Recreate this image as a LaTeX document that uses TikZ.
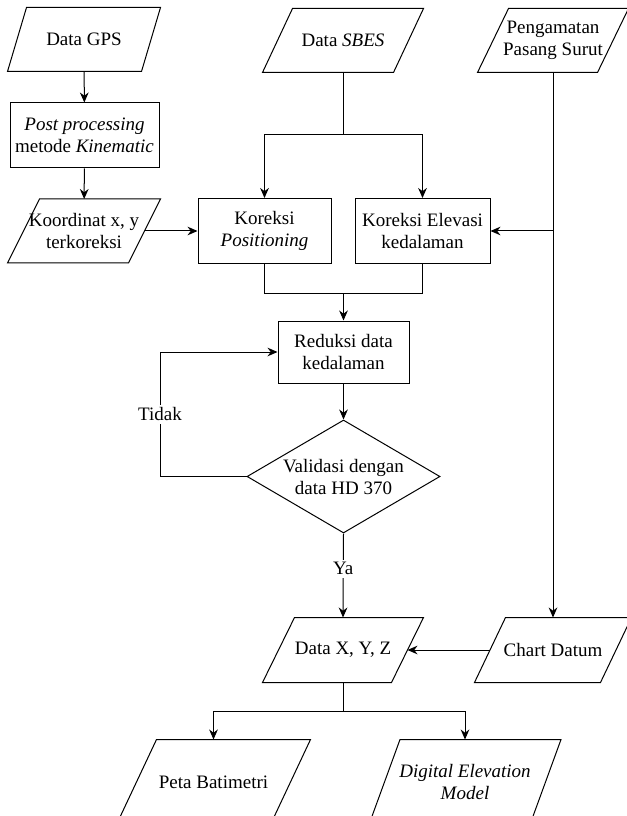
\documentclass[tikz,border=0pt]{standalone}
\usepackage{fontspec}
\setmainfont{Liberation Serif}
\usepackage{tikz}
\usetikzlibrary{shapes.geometric, arrows.meta}
\newcommand{\iobox}[2]{\draw ([xshift=#2]#1.north west) -- (#1.north east) -- ([xshift=-#2]#1.south east) -- (#1.south west) -- cycle;}

\begin{document}
\begin{tikzpicture}
	[x=0.75pt, y=-0.75pt, line width=0.75pt,
	every node/.style = {font=\fontsize{14.25}{16.5}\selectfont, align=center, inner sep=1pt},
	io/.style = {rectangle, minimum height=47.25pt},
	proc/.style = {draw, rectangle, minimum height=48.75pt},
	arr/.style = {-{Stealth[length=7.5pt, width=6.5pt]}},
	lbl/.style = {fill=white, inner sep=2pt}]
	\useasboundingbox (0,0) rectangle (626,816);
	\node[io, minimum width=114pt] (gps) at (84,39.5) {Data GPS};
	\node[proc, minimum width=111.75pt] (post) at (84.5,135.5) {\textit{Post processing}\\metode \textit{Kinematic}};
	\node[io, minimum width=114pt] (koord) at (84,231) {Koordinat x, y\\terkoreksi};
	\node[io, minimum width=120pt] (sbes) at (343,40.5) {Data \textit{SBES}};
	\node[io, minimum width=112.5pt] (pasut) at (553,40.5) {Pengamatan\\Pasang Surut};
	\node[proc, minimum width=99.75pt] (kpos) at (264.5,231) {Koreksi\\\textit{Positioning}};
	\node[proc, minimum width=101.25pt] (kelev) at (422.5,231) {Koreksi Elevasi\\kedalaman};
	\node[proc, minimum width=98.25pt, minimum height=46.5pt] (reduksi) at (343.5,352) {Reduksi data\\kedalaman};
	\node[draw, diamond, shape aspect=1.71, inner sep=0pt, minimum width=144.75pt, minimum height=84.75pt] (valid) at (343.5,476.5) {Validasi dengan\\data HD 370};
	\node[io, minimum width=120pt, minimum height=48pt] (xyz) at (343,650) {Data X, Y, Z};
	\node[io, minimum width=117pt, minimum height=48pt] (chart) at (553,650) {Chart Datum};
	\node[io, minimum width=144.75pt, minimum height=63pt] (peta) at (213.5,782) {Peta Batimetri};
	\node[io, minimum width=143.25pt, minimum height=63pt] (dem) at (465,782) {\textit{Digital Elevation}\\\textit{Model}};
	\iobox{gps}{14.25pt}
	\iobox{koord}{24pt}
	\iobox{sbes}{22.5pt}
	\iobox{pasut}{23.25pt}
	\iobox{xyz}{24pt}
	\iobox{chart}{23.25pt}
	\iobox{peta}{30pt}
	\iobox{dem}{23.25pt}
	\coordinate (sbesj) at (343,135);
	\coordinate (mrg) at (343.5,293);
	\coordinate (tj) at (pasut.south |- kelev.east);
	\coordinate (loop) at (160,476.5);
	\coordinate (outj) at (343,711);
	\draw[arr] (gps)--(post);
	\draw[arr] (post)--(koord);
	\draw[arr] ([xshift=-12pt]koord.east)--(koord.east -| kpos.west);
	\draw (sbes)--(sbesj);
	\draw[arr] (sbesj) -| (kpos.north);
	\draw[arr] (sbesj) -| (kelev.north);
	\draw (pasut.south)--(tj);
	\draw[arr] (tj)--(kelev.east);
	\draw[arr] (tj)--(chart.north);
	\draw (kpos.south) |- (mrg);
	\draw (kelev.south) |- (mrg);
	\draw[arr] (mrg)--(reduksi.north);
	\draw[arr] (reduksi)--(valid);
	\draw[arr] (valid.west)--(loop) |- (reduksi.west) node[lbl, pos=0.25] {Tidak};
	\draw[arr] (valid.south)--(xyz.north) node[lbl, pos=0.42] {Ya};
	\draw[arr] ([xshift=11.6pt]chart.west)--([xshift=-12pt]xyz.east);
	\draw (xyz.south)--(outj);
	\draw[arr] (outj) -| (peta.north);
	\draw[arr] (outj) -| (dem.north);
\end{tikzpicture}
\end{document}
